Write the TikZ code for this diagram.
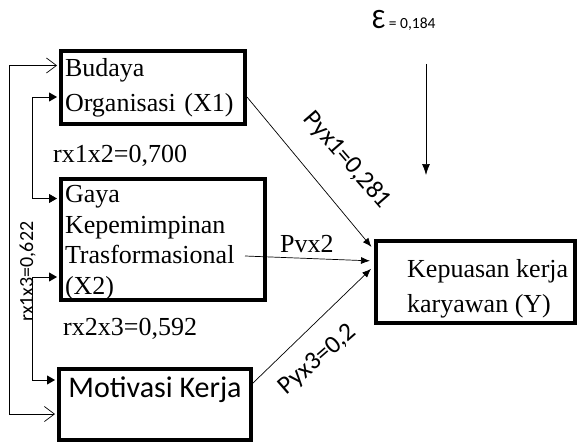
\documentclass[tikz,border=0pt]{standalone}
\usepackage{fontspec}
\setmainfont{Liberation Serif}
\newfontfamily\calibri{Carlito}
\usetikzlibrary{arrows.meta}
\tikzset{
	every node/.style={
		font=\fontsize{26}{35}\selectfont
	},
	variabel/.style={
		shape=rectangle,
		draw,
		line width=4pt,
		align=left,
		inner xsep=4pt
	},
	teks/.style={
		inner sep=0pt,
		anchor=base west
	},
	miring/.style={
		inner sep=0pt,
		font=\calibri\fontsize{25.5}{25.5}\selectfont
	},
	jalur/.style={
		-{Latex[length=9pt,width=7pt]},
		line width=0.7pt,
		shorten >=4pt
	},
	korelasi/.style={
		{Triangle[length=8pt,width=9pt]}-{Triangle[length=8pt,width=9pt]},
		line width=0.8pt,
		shorten <=2pt,
		shorten >=2pt
	},
	korelasi luar/.style={
		{Straight Barb[length=10pt,width=15pt]}-{Straight Barb[length=10pt,width=15pt]},
		line width=0.7pt,
		shorten <=2pt,
		shorten >=2pt
	},
	galat/.style={
		-{Latex[length=11pt,width=8pt]},
		line width=0.7pt
	}
}

\begin{document}
\begin{tikzpicture}[x=1pt,y=-1pt]
	\useasboundingbox (0,0) rectangle (578,444);
	
	% variabel
	\node[variabel, text width=176pt, minimum height=73pt] (x1) at (153,87.5) {Budaya\\Organisasi (X1)};
	\node[variabel, text width=196pt, inner ysep=0pt, minimum height=121pt, font=\fontsize{26}{30.5}\selectfont] (x2) at (163,239.5) {\rule{0pt}{24pt}Gaya\\Kepemimpinan\\Trasformasional\\(X2)};
	\node[variabel, minimum width=192pt, inner ysep=0pt, text height=28pt, text depth=43pt, font=\calibri\fontsize{30}{30}\selectfont] (x3) at (155,404.5) {Motivasi Kerja};
	\node[variabel, minimum width=199pt, minimum height=82pt,
		label={[anchor=west, align=left, inner sep=0pt, xshift=33pt, yshift=-7pt]west:Kepuasan kerja\\karyawan (Y)}] (y) at (475.5,282) {};
	
	% jalur
	\draw[jalur] ([yshift=-9.5pt]x1.east) -- ([yshift=32pt]y.west);
	\draw[jalur] ([xshift=-22pt,yshift=-16.5pt]x2.east) -- ([yshift=21pt]y.west);
	\draw[jalur] ([yshift=21.5pt]x3.east) -- ([yshift=16pt]y.west);
	
	\node[teks] (p2) at (280,252) {Pvx2};
	\node[miring, rotate=-49] (p1) at (347,160) {Pyx1=0,281};
	\node[miring, rotate=41] (p3) at (318,360) {Pyx3=0,2};
	
	% korelasi
	\draw[korelasi] ([yshift=-9.5pt]x1.west) -- ++(-27,0) |- ([yshift=41pt]x2.west);
	\draw[korelasi] ([yshift=-37.5pt]x2.west) -- ++(-27,0) |- ([yshift=24.5pt]x3.west);
	\draw[korelasi luar] ([yshift=22pt]x1.west) -- ++(-50,0) |- ([yshift=-9.5pt]x3.west);
	
	\node[teks] (r12) at (53,162) {rx1x2=0,700};
	\node[teks] (r23) at (63,335) {rx2x3=0,592};
	\node[teks, rotate=90, font=\calibri\fontsize{20}{20}\selectfont] (r13) at (33,322) {rx1x3=0,622};
	
	% galat
	\node[teks, font=\calibri\fontsize{15.5}{15.5}\selectfont] (epsilon) at (372,29) {{\fontsize{28}{28}\selectfont Ɛ} = 0,184};
	\coordinate (e atas) at (426,64);
	\coordinate (e ujung) at (426,175);
	\draw[galat] (e atas) -- (e ujung);
	
\end{tikzpicture}
\end{document}
